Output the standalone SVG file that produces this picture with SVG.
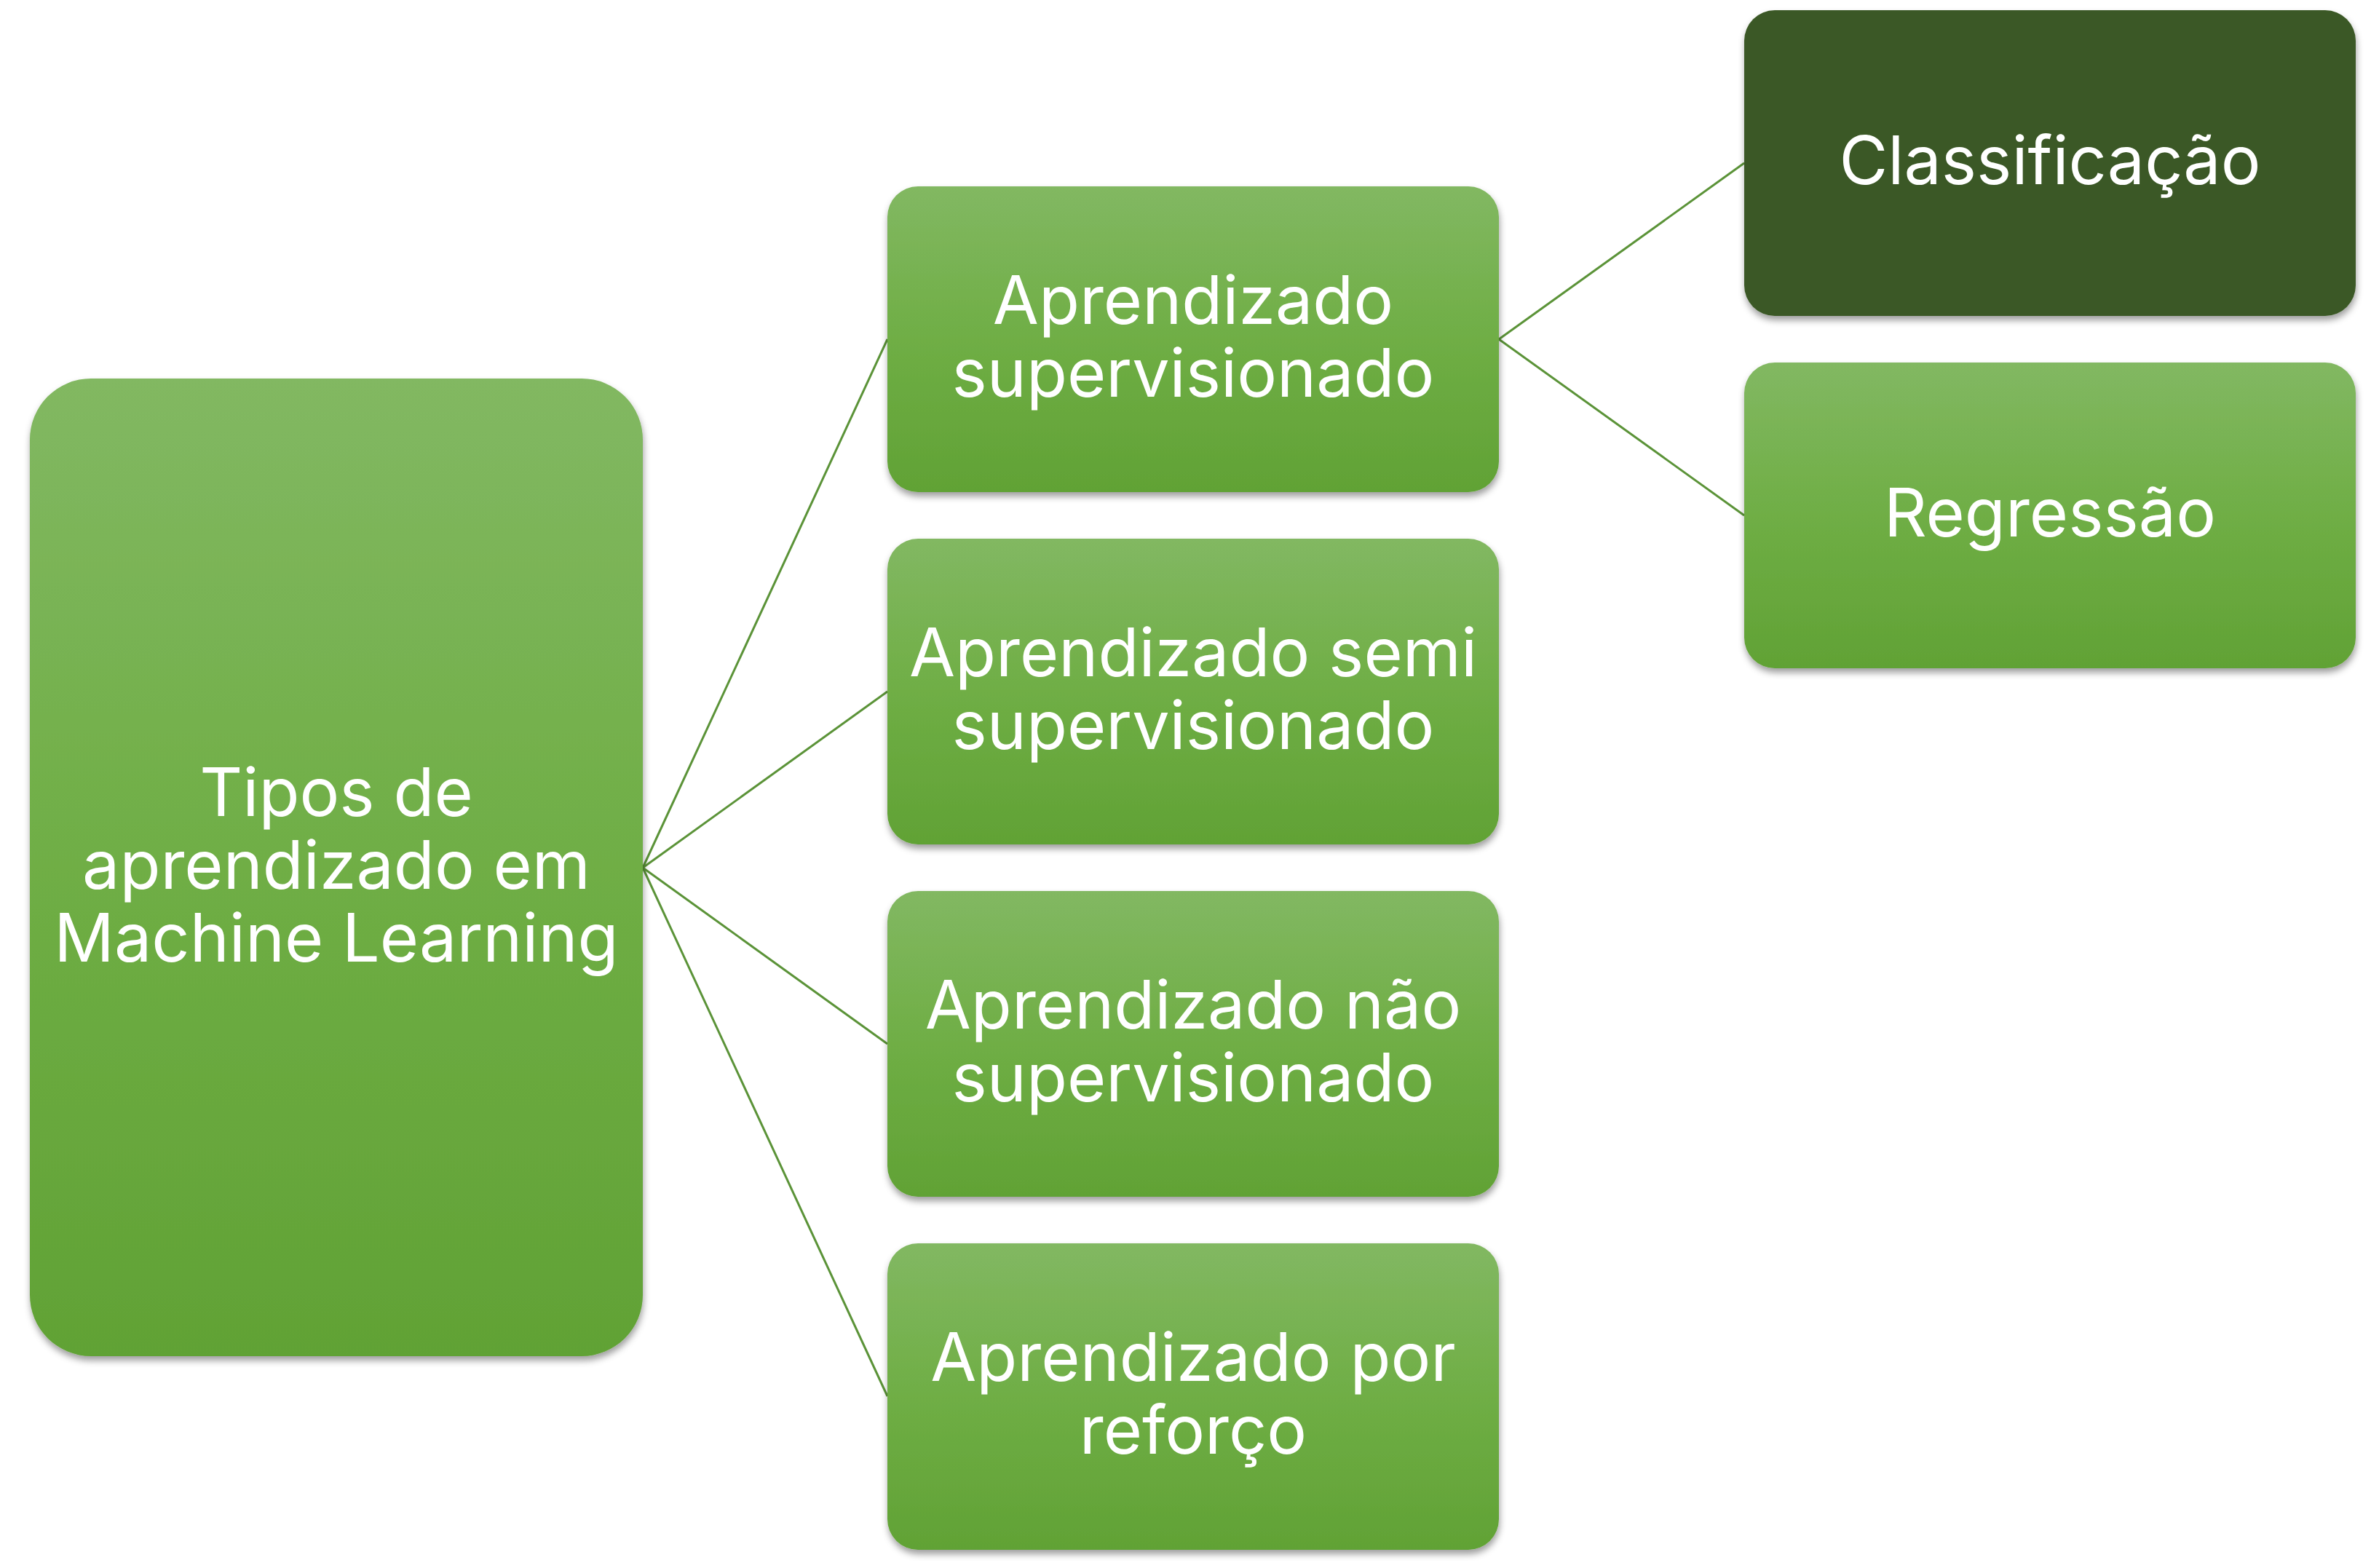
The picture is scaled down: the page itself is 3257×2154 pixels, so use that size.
<svg xmlns="http://www.w3.org/2000/svg" width="3257" height="2154" viewBox="0 0 3257 2154">
<defs>
<linearGradient id="g" x1="0" y1="0" x2="0" y2="1">
<stop offset="0" stop-color="#82b862"/>
<stop offset="0.5" stop-color="#6fae45"/>
<stop offset="1" stop-color="#61a235"/>
</linearGradient>
<filter id="sh" x="-10%" y="-10%" width="120%" height="120%">
<feDropShadow dx="1" dy="6" stdDeviation="5" flood-color="#000" flood-opacity="0.38"/>
</filter>
<style>
.box{fill:url(#g);filter:url(#sh)}
.dark{fill:#3b5925;filter:url(#sh)}
.t{font-family:Inter,"Noto Sans","Liberation Sans",sans-serif;font-size:91.5px;fill:#fff;text-anchor:middle}
.c{stroke:#5b9338;stroke-width:3;fill:none}
</style>
</defs>
<rect width="3257" height="2154" fill="#fff"/>
<g id="connectors">
<line class="c" x1="883" y1="1192" x2="1219" y2="466"/>
<line class="c" x1="883" y1="1192" x2="1219" y2="950"/>
<line class="c" x1="883" y1="1192" x2="1219" y2="1434"/>
<line class="c" x1="883" y1="1192" x2="1219" y2="1918"/>
<line class="c" x1="2059" y1="466" x2="2396" y2="224"/>
<line class="c" x1="2059" y1="466" x2="2396" y2="708"/>
</g>
<g id="root">
<rect class="box" x="41" y="520" width="842" height="1343" rx="84"/>
<text class="t" x="462" y="1121">Tipos de</text>
<text class="t" x="462" y="1221">aprendizado em</text>
<text class="t" x="462" y="1321">Machine Learning</text>
</g>
<g id="n-supervisionado">
<rect class="box" x="1219" y="256" width="840" height="420" rx="42"/>
<text class="t" x="1639" y="445">Aprendizado</text>
<text class="t" x="1639" y="545">supervisionado</text>
</g>
<g id="n-semi">
<rect class="box" x="1219" y="740" width="840" height="420" rx="42"/>
<text class="t" x="1639" y="929">Aprendizado semi</text>
<text class="t" x="1639" y="1029">supervisionado</text>
</g>
<g id="n-nao">
<rect class="box" x="1219" y="1224" width="840" height="420" rx="42"/>
<text class="t" x="1639" y="1413">Aprendizado não</text>
<text class="t" x="1639" y="1513">supervisionado</text>
</g>
<g id="n-reforco">
<rect class="box" x="1219" y="1708" width="840" height="421" rx="42"/>
<text class="t" x="1639" y="1897">Aprendizado por</text>
<text class="t" x="1639" y="1997">reforço</text>
</g>
<g id="n-classificacao">
<rect class="dark" x="2396" y="14" width="840" height="420" rx="42"/>
<text class="t" x="2816" y="253">Classificação</text>
</g>
<g id="n-regressao">
<rect class="box" x="2396" y="498" width="840" height="420" rx="42"/>
<text class="t" x="2816" y="737">Regressão</text>
</g>
</svg>
